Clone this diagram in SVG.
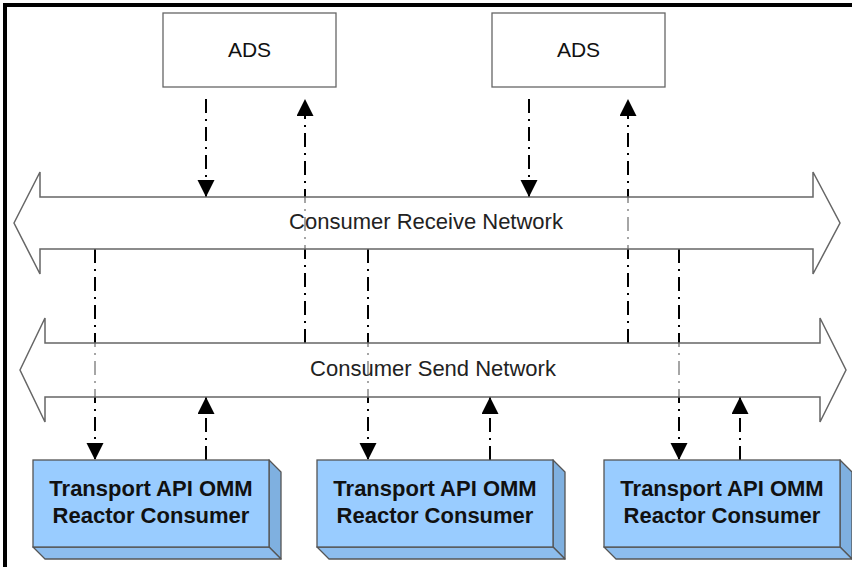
<svg xmlns="http://www.w3.org/2000/svg" width="852" height="567" viewBox="0 0 852 567">
<style>
.ads{fill:#fff;stroke:#666;stroke-width:1.3}
.adst{font-family:"Liberation Sans",Arial,sans-serif;font-size:21px;fill:#111;text-anchor:middle}
.net{fill:#fff;fill-opacity:0.65;stroke:#666;stroke-width:1.5;stroke-linejoin:miter}
.nett{font-family:"Liberation Sans",Arial,sans-serif;font-size:22px;fill:#222;text-anchor:middle}
.conn{stroke:#000;stroke-width:2;fill:none;stroke-dasharray:14 6 2 6}
.front{fill:#99CCFF;stroke:#555;stroke-width:1.3}
.side{fill:#7FB0E0;stroke:#555;stroke-width:1.3;stroke-linejoin:round}
.bot{fill:#8DBDEE;stroke:#555;stroke-width:1.3;stroke-linejoin:round}
.ct{font-family:"Liberation Sans",Arial,sans-serif;font-size:22px;font-weight:bold;fill:#111;text-anchor:middle}
</style>
<defs>
<marker id="ah" markerUnits="userSpaceOnUse" markerWidth="18" markerHeight="18" refX="17" refY="8.5" orient="auto">
<path d="M0,0 L17,8.5 L0,17 z" fill="#000"/>
</marker>
</defs>
<rect x="0" y="0" width="852" height="567" fill="#fff"/>
<rect x="3" y="3" width="4" height="564" fill="#000"/>
<rect x="3" y="3" width="849" height="4" fill="#000"/>

<g id="connectors">
<line class="conn" x1="206" y1="99" x2="206" y2="197" marker-end="url(#ah)"/>
<line class="conn" x1="305" y1="343" x2="305" y2="99" marker-end="url(#ah)"/>
<line class="conn" x1="529" y1="99" x2="529" y2="197" marker-end="url(#ah)"/>
<line class="conn" x1="628" y1="343" x2="628" y2="99" marker-end="url(#ah)"/>
<line class="conn" x1="95" y1="249" x2="95" y2="460" marker-end="url(#ah)"/>
<line class="conn" x1="368" y1="249" x2="368" y2="460" marker-end="url(#ah)"/>
<line class="conn" x1="679" y1="249" x2="679" y2="460" marker-end="url(#ah)"/>
<line class="conn" x1="206" y1="460" x2="206" y2="397" marker-end="url(#ah)"/>
<line class="conn" x1="490" y1="460" x2="490" y2="397" marker-end="url(#ah)"/>
<line class="conn" x1="740" y1="460" x2="740" y2="397" marker-end="url(#ah)"/>
</g>

<g id="ads1">
<rect class="ads" x="163" y="13" width="173" height="74"/>
<text class="adst" x="249.5" y="57">ADS</text>
</g>
<g id="ads2">
<rect class="ads" x="492" y="13" width="173" height="74"/>
<text class="adst" x="578.5" y="57">ADS</text>
</g>

<g id="receive-network">
<path class="net" d="M14,223 L40,172 L40,197 L813,197 L813,172 L840,223 L813,274 L813,249 L40,249 L40,274 Z"/>
<text class="nett" x="426" y="229">Consumer Receive Network</text>
</g>
<g id="send-network">
<path class="net" d="M20,370 L45,318 L45,343 L820,343 L820,318 L846,370 L820,422 L820,397 L45,397 L45,422 Z"/>
<text class="nett" x="433" y="376">Consumer Send Network</text>
</g>

<g id="consumer1">
<path class="side" d="M269,460 L281,472 L281,559 L269,547 Z"/>
<path class="bot" d="M33,547 L269,547 L281,559 L45,559 Z"/>
<rect class="front" x="33" y="460" width="236" height="87"/>
<text class="ct" x="151" y="496">Transport API OMM</text>
<text class="ct" x="151" y="523">Reactor Consumer</text>
</g>
<g id="consumer2">
<path class="side" d="M553,460 L565,472 L565,559 L553,547 Z"/>
<path class="bot" d="M317,547 L553,547 L565,559 L329,559 Z"/>
<rect class="front" x="317" y="460" width="236" height="87"/>
<text class="ct" x="435" y="496">Transport API OMM</text>
<text class="ct" x="435" y="523">Reactor Consumer</text>
</g>
<g id="consumer3">
<path class="side" d="M840,460 L852,472 L852,559 L840,547 Z"/>
<path class="bot" d="M604,547 L840,547 L852,559 L616,559 Z"/>
<rect class="front" x="604" y="460" width="236" height="87"/>
<text class="ct" x="722" y="496">Transport API OMM</text>
<text class="ct" x="722" y="523">Reactor Consumer</text>
</g>
</svg>
